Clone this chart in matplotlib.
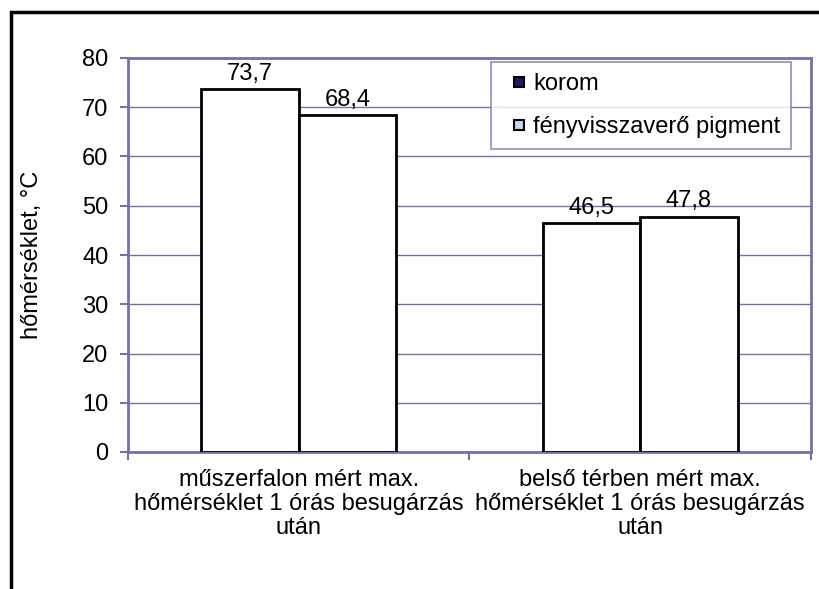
import matplotlib
matplotlib.use("Agg")
import matplotlib.pyplot as plt
import numpy as np
from matplotlib.lines import Line2D
from matplotlib.patches import Rectangle
from matplotlib.legend_handler import HandlerLine2D

plt.rcParams['font.family'] = ['Liberation Sans', 'DejaVu Sans']

categories = ["műszerfalon mért max.\nhőmérséklet 1 órás besugárzás\nután",
              "belső térben mért max.\nhőmérséklet 1 órás besugárzás\nután"]
series_names = ["korom", "fényvisszaverő pigment"]
korom = [73.7, 46.5]
pigment = [68.4, 47.8]
yticks = [0, 10, 20, 30, 40, 50, 60, 70, 80]
ylabel = "hőmérséklet, °C"

W, H = 820, 589
fig = plt.figure(figsize=(W/100, H/100), dpi=100)
ax = fig.add_axes([128/W, 1-452/H, (811-128)/W, (452-58)/H])

axc = '#7272a8'
fs = 17

x = np.arange(len(categories))
bw = 0.285
b1 = ax.bar(x - bw/2, korom, bw, color='white', edgecolor='black', linewidth=2, zorder=3)
b2 = ax.bar(x + bw/2, pigment, bw, color='white', edgecolor='black', linewidth=2, zorder=3)
fmt = lambda v: f"{v:.1f}".replace('.', ',')
ax.bar_label(b1, labels=[fmt(v) for v in korom], padding=3, fontsize=fs)
ax.bar_label(b2, labels=[fmt(v) for v in pigment], padding=3, fontsize=fs)

ax.set_xlim(-0.5, len(categories) - 0.5)
ax.set_ylim(0, 80)
ax.set_yticks(yticks)
ax.set_yticklabels([str(t) for t in yticks], fontsize=fs)
ax.set_xticks(x)
ax.set_xticklabels(categories, fontsize=fs, linespacing=1.12)
ax.tick_params(axis='x', length=0, pad=12)
ax.set_xticks([-0.5, 0.5, 1.5], minor=True)
ax.tick_params(axis='x', which='minor', length=6, color=axc, width=1.5)
ax.tick_params(axis='y', length=6, color=axc, width=1.5, pad=8)

ax.yaxis.grid(True, color=axc, linewidth=1, zorder=0)
ax.set_axisbelow(True)
for s in ['left', 'bottom', 'top', 'right']:
    ax.spines[s].set_color(axc)
    ax.spines[s].set_linewidth(2)

ax.set_ylabel(ylabel, fontsize=fs)
ax.yaxis.set_label_coords((43 - 128) / (811 - 128), 0.5)

handles = [Line2D([], [], linestyle='none', marker='s', markersize=7,
                  markerfacecolor='#1c1c60', markeredgecolor='black', markeredgewidth=1.5),
           Line2D([], [], linestyle='none', marker='s', markersize=7,
                  markerfacecolor='#c4daf2', markeredgecolor='black', markeredgewidth=1.5)]
hmap = {h: HandlerLine2D(numpoints=1, xpad=0.17) for h in handles}
leg = ax.legend(handles, series_names, loc='upper left', handler_map=hmap,
                bbox_to_anchor=(491/W, 1-62/H), bbox_transform=fig.transFigure,
                fontsize=fs, frameon=True, fancybox=False,
                handlelength=1.31, handletextpad=0.0,
                borderpad=0.466, labelspacing=0.9, borderaxespad=0)
leg.get_frame().set_edgecolor(axc)
leg.get_frame().set_linewidth(1.2)

# outer chart frame
fig.patches.append(Rectangle((11/W, -0.1), 1.2, 1 - 12/H + 0.1, transform=fig.transFigure,
                             fill=False, edgecolor='black', linewidth=2.5))

fig.savefig("out.png", dpi=100)
